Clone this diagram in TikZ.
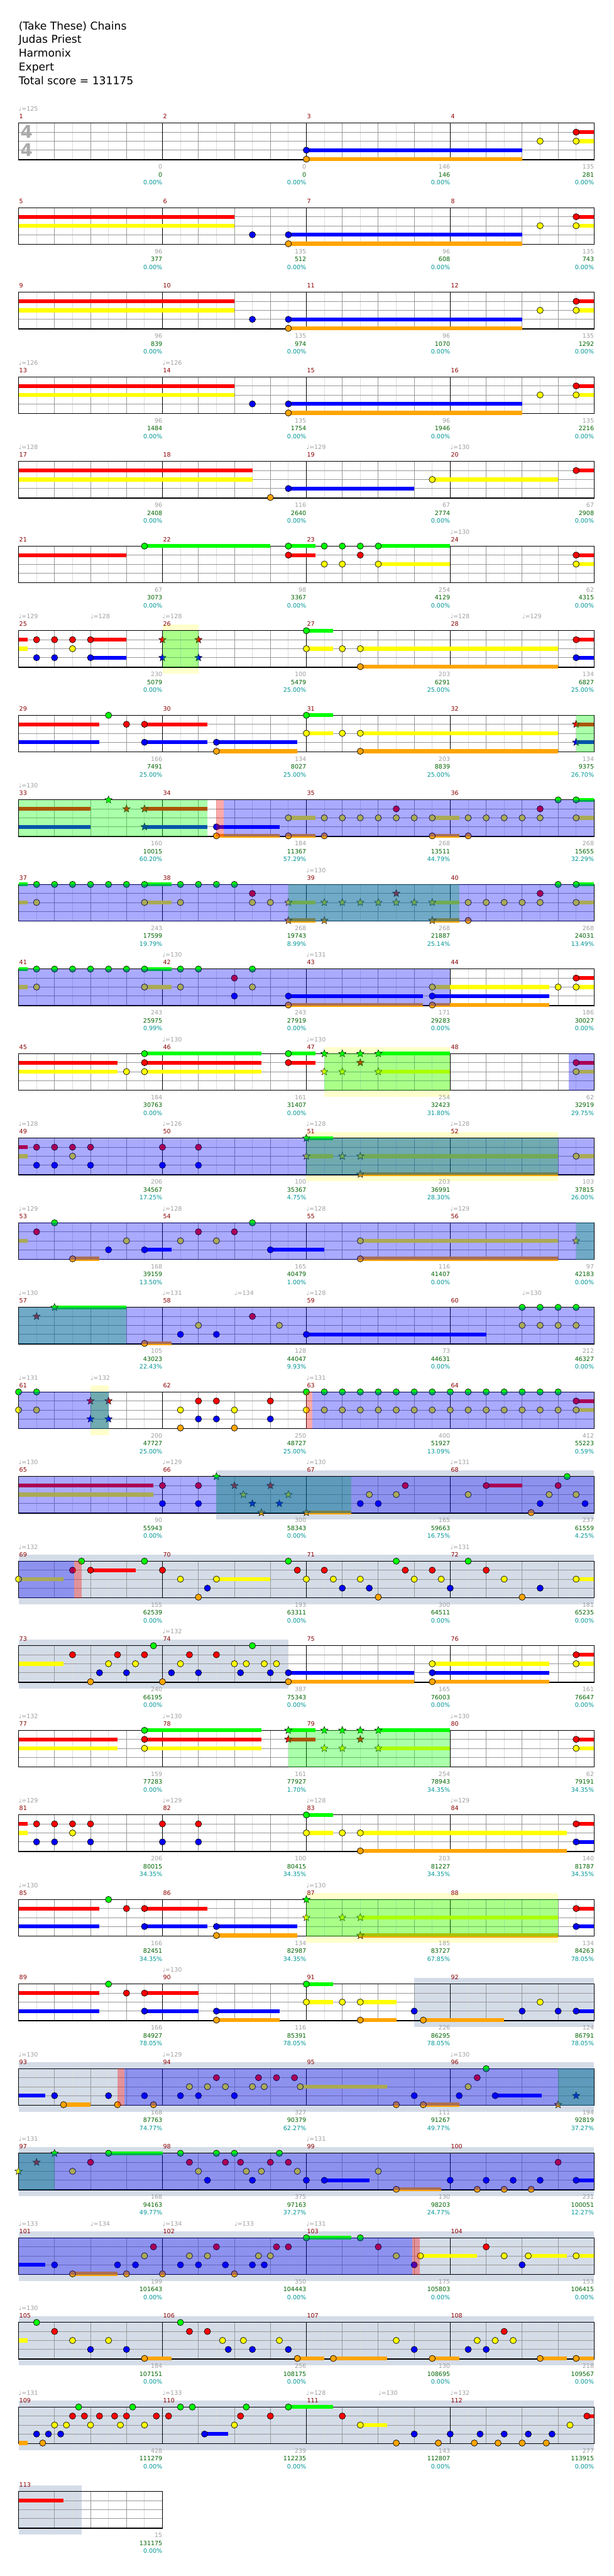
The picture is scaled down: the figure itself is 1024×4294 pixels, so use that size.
\documentclass[tikz,border=0pt]{standalone}
\usepackage{fontspec}
\setmainfont{DejaVu Sans}
\usetikzlibrary{shapes.geometric}
\definecolor{ln0}{RGB}{0,255,0}
\definecolor{ln1}{RGB}{255,0,0}
\definecolor{ln2}{RGB}{255,255,0}
\definecolor{ln3}{RGB}{0,0,255}
\definecolor{ln4}{RGB}{255,165,0}
\definecolor{mnumc}{RGB}{139,0,0}
\definecolor{tgray}{RGB}{160,160,160}
\definecolor{sgreen}{RGB}{0,100,0}
\definecolor{steal}{RGB}{0,150,150}
\definecolor{gband}{RGB}{212,220,232}
\definecolor{yband}{RGB}{255,255,204}
\definecolor{glc}{RGB}{153,153,153}
\definecolor{hlc}{RGB}{221,221,221}
\definecolor{tsg}{RGB}{170,170,170}
\newcommand\lbfont{\fontsize{10}{12}\selectfont}
\tikzset{
 nt/.style={circle,draw=black,line width=0.7pt,minimum size=10.5pt,inner sep=0pt},
 stn/.style={star,star points=5,star point ratio=2.3,draw=black,line width=0.5pt,minimum size=13pt,inner sep=0pt},
 sus/.style={line width=6.5pt,line cap=butt},
 lab/.style={anchor=base east,inner sep=0pt,font=\lbfont},
 mnum/.style={anchor=base west,inner sep=0pt,font=\lbfont,text=mnumc},
 tmp/.style={anchor=base west,inner sep=0pt,font=\lbfont,text=tgray},
 gl/.style={draw=glc,line width=0.9pt},
 hl/.style={draw=hlc,line width=0.9pt},
 hdr/.style={anchor=base west,inner sep=0pt,font=\fontsize{18}{22}\selectfont}
}
\newcommand\NT[2]{\foreach \xb/\xl in {#2}{\node[nt,fill=ln\xl] at ({31+60*\xb},{205.3+141*#1+15*\xl}) {};}}
\newcommand\ST[2]{\foreach \xb/\xl in {#2}{\node[stn,fill=ln\xl] at ({31+60*\xb},{205.3+141*#1+15*\xl}) {};}}
\newcommand\SU[2]{\foreach \xb/\xe/\xl in {#2}{\draw[sus,color=ln\xl] ({31+60*\xb},{205.3+141*#1+15*\xl}) -- ({31+60*\xe},{205.3+141*#1+15*\xl});}}
\newcommand\GB[3]{\fill[gband] ({31+60*#2},{194.8+141*#1}) rectangle ({31+60*#3},{276.8+141*#1});}
\newcommand\YB[3]{\fill[yband] ({31+60*#2},{194.8+141*#1}) rectangle ({31+60*#3},{276.8+141*#1});}
\newcommand\GO[3]{\fill[ln0,fill opacity=0.3333] ({31+60*#2},{205.3+141*#1}) rectangle ({31+60*#3},{266.3+141*#1});}
\newcommand\BO[3]{\fill[ln3,fill opacity=0.3333] ({31+60*#2},{205.3+141*#1}) rectangle ({31+60*#3},{266.3+141*#1});}
\newcommand\PO[3]{\fill[ln1,fill opacity=0.3333] ({31+60*#2},{205.3+141*#1}) rectangle ({31+60*#3},{266.3+141*#1});}
\newcommand\TPS[2]{\foreach \xb/\xv in {#2}{\node[tmp] at ({31+60*\xb},{205.3+141*#1-20}) {♩=\xv};}}
\newcommand\LBS[2]{\foreach \ga/\gb/\gc [count=\gj from 0] in {#2}{%
 \node[lab,text=tgray] at ({31+240*(\gj+1)},{205.3+141*#1+76.4}) {\ga};
 \node[lab,text=sgreen] at ({31+240*(\gj+1)},{205.3+141*#1+89.7}) {\gb};
 \node[lab,text=steal] at ({31+240*(\gj+1)},{205.3+141*#1+102.7}) {\gc\%};}}
\newcommand\GRID[2]{%
 \pgfmathsetmacro\gt{205.3+141*#1}%
 \pgfmathtruncatemacro\gn{8*#2-1}%
 \foreach \i in {1,...,\gn}{%
   \pgfmathtruncatemacro\gm{mod(\i,2)}%
   \ifnum\gm=1 \draw[hl] ({31+30*\i},\gt) -- ++(0,61);\else\draw[gl] ({31+30*\i},\gt) -- ++(0,61);\fi}%
 \foreach \yy in {15,30,45}{\draw[gl] (31,{\gt+\yy}) -- ({31+240*#2},{\gt+\yy});}%
 \ifnum#2>1 \pgfmathtruncatemacro\gq{#2-1}\foreach \i in {1,...,\gq}{\draw[black,line width=1pt] ({31+240*\i},\gt) -- ++(0,61);}\fi
 \draw[black,line width=1.2pt] (31,\gt) rectangle ({31+240*#2},{\gt+61});}
\begin{document}
\begin{tikzpicture}[x=1pt,y=-1pt]
\fill[white] (0,0) rectangle (1024,4294);
\useasboundingbox (0,0) rectangle (1024,4294);
% header
\node[hdr] (t1) at (31,49.3) {(Take These) Chains};
\node[hdr] (t2) at (31,72.3) {Judas Priest};
\node[hdr] (t3) at (31,95.3) {Harmonix};
\node[hdr] (t4) at (31,118.3) {Expert};
\node[hdr] (t5) at (31,141.3) {Total score = 131175};
% bands
\YB{6}{4}{5}\YB{11}{8.5}{12}\YB{12}{8}{15}\YB{15}{2}{2.5}\YB{21}{8}{15}
\GB{16}{5.5}{16}\GB{17}{0}{16}\GB{18}{0}{7.5}\GB{22}{11}{16}\GB{23}{0}{16}
\GB{24}{0}{16}\GB{25}{0}{16}\GB{26}{0}{16}\GB{27}{0}{16}\GB{28}{0}{1.75}
% grids
\foreach \r in {0,...,27}{\GRID{\r}{4}
 \foreach \j in {0,...,3}{\pgfmathtruncatemacro\mn{4*\r+\j+1}\node[mnum] at ({32+240*\j},{205.3+141*\r-7.6}) {\mn};}}
\GRID{28}{1}
\node[mnum] at (32,{205.3+141*28-7.6}) {113};
\node[anchor=base west,inner sep=0pt,font=\bfseries\fontsize{29}{30}\selectfont,text=tsg] at (34,230.3) {4};
\node[anchor=base west,inner sep=0pt,font=\bfseries\fontsize{29}{30}\selectfont,text=tsg] at (34,260.3) {4};
% row 0
\SU{0}{8/14/3,8/14/4,15.5/16/1,15.5/16/2}
\NT{0}{8/3,8/4,14.5/2,15.5/1,15.5/2}
\TPS{0}{0/125}
\LBS{0}{0/0/0.00,0/0/0.00,146/146/0.00,135/281/0.00}
% rows 1-3
\foreach \r in {1,2,3}{
\SU{\r}{0/6/1,0/6/2,7.5/14/3,7.5/14/4,15.5/16/1,15.5/16/2}
\NT{\r}{6.5/3,7.5/3,7.5/4,14.5/2,15.5/1,15.5/2}}
\LBS{1}{96/377/0.00,135/512/0.00,96/608/0.00,135/743/0.00}
\LBS{2}{96/839/0.00,135/974/0.00,96/1070/0.00,135/1292/0.00}
\LBS{3}{96/1484/0.00,135/1754/0.00,96/1946/0.00,135/2216/0.00}
\TPS{3}{0/126,4/126}
% row 4
\SU{4}{0/6.5/1,0/6.5/2,7.5/11/3,11.5/15/2,15.5/16/1}
\NT{4}{7/4,7.5/3,11.5/2,15.5/1}
\TPS{4}{0/128,8/129,12/130}
\LBS{4}{96/2408/0.00,116/2640/0.00,67/2774/0.00,67/2908/0.00}
% row 5
\SU{5}{0/3/1,3.5/7/0,7.5/8.25/0,7.5/8.25/1,10/12/0,10/12/2,15.5/16/1,15.5/16/2}
\NT{5}{3.5/0,7.5/0,7.5/1,8.5/0,8.5/2,9/0,9/2,9.5/0,9.5/1,10/0,10/2,15.5/1,15.5/2}
\TPS{5}{12/130}
\LBS{5}{67/3073/0.00,98/3367/0.00,254/4129/0.00,62/4315/0.00}
% row 6
\SU{6}{0/0.25/1,0/0.25/2,2/3/1,2/3/3,8/8.75/0,8/8.75/2,9.5/15/2,9.5/15/4,15.5/16/1,15.5/16/3}
\NT{6}{0.5/1,1/1,1.5/1,2/1,1.5/2,0.5/3,1/3,2/3,8/0,8/2,9/2,9.5/2,9.5/4,15.5/1,15.5/3}
\ST{6}{4/1,4/3,5/1,5/3}
\TPS{6}{0/129,2/128,4/128,12/128,14/129}
\LBS{6}{230/5079/0.00,100/5479/25.00,203/6291/25.00,134/6827/25.00}
% row 7
\SU{7}{0/2.25/1,0/2.25/3,3.5/5.25/1,3.5/5.25/3,5.5/7.75/3,5.5/7.75/4,8/8.75/0,8/8.75/2,9.5/15/2,9.5/15/4,15.5/16/1,15.5/16/3}
\NT{7}{2.5/0,3/1,3.5/1,3.5/3,5.5/3,5.5/4,8/0,8/2,9/2,9.5/2,9.5/4}
\ST{7}{15.5/1,15.5/3}
\LBS{7}{166/7491/25.00,134/8027/25.00,203/8839/25.00,134/9375/26.70}
% row 8
\SU{8}{0/2/1,0/2/3,3.5/5.25/1,3.5/5.25/3,5.5/7.25/3,5.5/7.25/4,7.5/8.25/2,7.5/8.25/4,11.5/12.25/2,11.5/12.25/4,15.5/16/0,15.5/16/2}
\ST{8}{2.5/0,3/1,3.5/1,3.5/3}
\NT{8}{5.5/3,5.5/4,7.5/2,7.5/4,8.5/2,8.5/4,9/2,9.5/2,10/2,10.5/2,10.5/1,11/2,11.5/2,11.5/4,12.5/2,12.5/4,13/2,13.5/2,14/2,14.5/2,14.5/1,15/0,15.5/0,15.5/2}
\TPS{8}{0/130}
\LBS{8}{160/10015/60.20,184/11367/57.29,268/13511/44.79,268/15655/32.29}
% row 9
\SU{9}{0/0.25/0,0/0.25/2,3.5/4.25/0,3.5/4.25/2,7.5/8.25/2,7.5/8.25/4,11.5/12.25/2,11.5/12.25/4,15.5/16/0,15.5/16/2}
\NT{9}{0.5/0,1/0,1.5/0,2/0,2.5/0,3/0,3.5/0,0.5/2,3.5/2,4.5/0,5/0,5.5/0,6/0,4.5/2,6.5/1,6.5/2,7/2,12.5/4,12.5/2,13/2,13.5/2,14/2,14.5/2,14.5/1,15/0,15.5/0,15.5/2}
\ST{9}{7.5/2,7.5/4,8.5/2,9/2,9.5/2,10/2,10.5/2,10.5/1,11/2,11.5/2,8.5/4,11.5/4}
\TPS{9}{8/130}
\LBS{9}{243/17599/19.79,268/19743/8.99,268/21887/25.14,268/24031/13.49}
% row 10
\SU{10}{0/0.25/0,0/0.25/2,3.5/4.25/0,3.5/4.25/2,7.5/11.25/3,7.5/11.25/4,11.5/14.75/2,11.5/14.75/3,11.5/14.75/4,15.5/16/1,15.5/16/2}
\NT{10}{0.5/0,1/0,1.5/0,2/0,2.5/0,3/0,3.5/0,0.5/2,3.5/2,4.5/0,5/0,4.5/2,6/1,6/3,6.5/0,6.5/2,7.5/3,7.5/4,11.5/2,11.5/3,11.5/4,15/2,15.5/1,15.5/2}
\TPS{10}{4/130,8/131}
\LBS{10}{243/25975/0.99,243/27919/0.00,171/29283/0.00,186/30027/0.00}
% row 11
\SU{11}{0/2.75/1,0/2.75/2,3.5/6.75/0,3.5/6.75/1,3.5/6.75/2,7.5/8.25/0,7.5/8.25/1,10/12/0,10/12/2,15.5/16/1,15.5/16/2}
\NT{11}{3/2,3.5/0,3.5/1,3.5/2,7.5/0,7.5/1,15.5/1,15.5/2}
\ST{11}{8.5/0,9/0,9.5/0,10/0,8.5/2,9/2,10/2,9.5/1}
\TPS{11}{4/130,8/130}
\LBS{11}{184/30763/0.00,161/31407/0.00,254/32423/31.80,62/32919/29.75}
% row 12
\SU{12}{0/0.25/1,0/0.25/2,8/8.75/0,8/8.75/2,9.5/15/2,9.5/15/4,15.5/16/2}
\NT{12}{0.5/1,1/1,1.5/1,2/1,1.5/2,0.5/3,1/3,2/3,4/1,5/1,4/3,5/3,15.5/2}
\ST{12}{8/0,8/2,9/2,9.5/2,9.5/4}
\TPS{12}{0/128,4/126,8/128,12/128}
\LBS{12}{206/34567/17.25,100/35367/4.75,203/36991/28.30,103/37815/26.00}
% row 13
\SU{13}{0/0.25/2,1.5/2.25/4,3.5/4.25/3,7/8.5/3,9.5/15/2,9.5/15/4}
\NT{13}{0.5/1,1/0,1.5/4,2.5/3,3/2,3.5/3,4.5/2,5/1,5.5/2,6/1,6.5/0,7/3,9.5/2,9.5/4}
\ST{13}{15.5/2}
\TPS{13}{0/129,4/128,8/128,12/129}
\LBS{13}{168/39159/13.50,165/40479/1.00,116/41407/0.00,97/42183/0.00}
% row 14
\SU{14}{1/3/0,3.5/4.25/4,8/13/3}
\ST{14}{0.5/1,1/0}
\NT{14}{3.5/4,4.5/3,5/2,5.5/3,6.5/1,7.25/2,8/3,14/0,14.5/0,15/0,15.5/0,14/2,14.5/2,15/2,15.5/2}
\TPS{14}{0/130,4/131,6/134,8/128,14/130}
\LBS{14}{105/43023/22.43,128/44047/9.93,73/44631/0.00,212/46327/0.00}
% row 15
\SU{15}{15.5/16/1,15.5/16/2}
\NT{15}{0/0,0/2,0.5/0,0.5/2,4.5/2,4.5/4,5/1,5/3,5.5/1,5.5/3,6/2,6/4,7/1,7/3,8/0,8/2,15.5/1,15.5/2}
\foreach \q in {8.5,9,...,15}{\NT{15}{\q/0,\q/2}}
\ST{15}{2/1,2/3,2.5/1,2.5/3}
\TPS{15}{0/131,2/132,8/131}
\LBS{15}{200/47727/25.00,250/48727/25.00,400/51927/13.09,412/55223/0.59}
% row 16
\SU{16}{0/3.75/1,0/3.75/2,13/14/1,8/9.25/4}
\NT{16}{4/1,4/3,5/1,5/3,9.5/3,9.75/2,10/3,10.5/2,10.75/1,12.5/2,13/1,14.25/4,14.5/3,14.75/2,15/1,15.25/0,15.5/2,15.75/3}
\ST{16}{5.5/0,6/1,6.25/2,6.5/3,6.75/4,7/1,7.25/3,7.5/2,8/4}
\TPS{16}{0/130,4/129,8/130,12/131}
\LBS{16}{90/55943/0.00,300/58343/0.00,165/59663/16.75,237/61559/4.25}
% row 17
\SU{17}{0/1.25/2,2/3.25/1,5.5/7/2,15.5/16/2}
\NT{17}{0/2,1.5/1,1.75/0,2/1,3.5/0,4/1,4.5/2,5/4,5.25/3,5.5/2,7.5/0,7.75/1,8/2,8.5/1,8.75/2,9/3,9.5/2,9.75/3,10/4,10.5/0,10.75/1,11/2,11.5/1,11.75/2,12/3,12.5/0,13/1,13.5/2,14/4,14.5/3,15.5/2}
\TPS{17}{0/132,12/131}
\LBS{17}{155/62539/0.00,193/63311/0.00,300/64511/0.00,181/65235/0.00}
% row 18
\SU{18}{0/1.25/2,7.5/11/3,7.5/11/4,11.5/14.75/2,11.5/14.75/3,11.5/14.75/4,15.5/16/1,15.5/16/2}
\NT{18}{1.5/1,2/4,2.25/3,2.5/2,2.75/1,3/3,3.25/2,3.5/1,3.75/0,4/4,4.25/3,4.5/2,4.75/1,5/3,5.5/1,6/2,6.17/3,6.33/2,6.5/0,6.83/2,7/3,7.17/2,7.5/3,7.5/4,11.5/2,11.5/3,11.5/4,15.5/1,15.5/2}
\TPS{18}{4/132}
\LBS{18}{240/66195/0.00,387/75343/0.00,165/76003/0.00,161/76647/0.00}
% row 19
\SU{19}{0/2.75/1,0/2.75/2,3.5/6.75/0,3.5/6.75/1,3.5/6.75/2,7.5/8.25/0,7.5/8.25/1,10/12/0,10/12/2,15.5/16/1,15.5/16/2}
\NT{19}{3.5/0,3.5/1,3.5/2,15.5/1,15.5/2}
\ST{19}{7.5/0,7.5/1,8.5/0,9/0,9.5/0,10/0,8.5/2,9/2,10/2,9.5/1}
\TPS{19}{0/132,4/130,12/130}
\LBS{19}{159/77283/0.00,161/77927/1.70,254/78943/34.35,62/79191/34.35}
% row 20
\SU{20}{0/0.25/1,0/0.25/2,8/8.75/0,8/8.75/2,9.5/15.25/2,9.5/15.25/4,15.5/16/1,15.5/16/3}
\NT{20}{0.5/1,1/1,1.5/1,2/1,1.5/2,0.5/3,1/3,2/3,4/1,5/1,4/3,5/3,8/0,8/2,9/2,9.5/2,9.5/4,15.5/1,15.5/3}
\TPS{20}{0/129,4/129,8/128,12/129}
\LBS{20}{206/80015/34.35,100/80415/34.35,203/81227/34.35,140/81787/34.35}
% row 21
\SU{21}{0/2.25/1,0/2.25/3,3.5/5.25/1,3.5/5.25/3,5.5/7.75/3,5.5/7.75/4,9.5/15/2,9.5/15/4,15.5/16/1,15.5/16/3}
\NT{21}{2.5/0,3/1,3.5/1,3.5/3,5.5/3,5.5/4,15.5/1,15.5/3}
\ST{21}{8/0,8/2,9/2,9.5/2,9.5/4}
\TPS{21}{0/130,8/130}
\LBS{21}{166/82451/34.35,134/82987/34.35,185/83727/67.85,134/84263/78.05}
% row 22
\SU{22}{0/2.25/1,0/2.25/3,3.5/5/1,3.5/5/3,5.5/7.25/3,5.5/7.25/4,8/8.75/0,8/8.75/2,9.5/10.5/2,9.5/10.5/4,11.25/13.5/4,15.5/16/3}
\NT{22}{2.5/0,3/1,3.5/1,3.5/3,5.5/3,5.5/4,8/0,8/2,9/2,9.5/2,9.5/4,11/3,11.25/4,14/3,14.5/2,15/3,15.5/3}
\TPS{22}{4/130}
\LBS{22}{166/84927/78.05,116/85391/78.05,226/86295/78.05,124/86791/78.05}
% row 23
\SU{23}{0/0.75/3,1.25/2/4,7.83/10.25/2,11.25/12.25/4,13.25/14.55/3}
\NT{23}{1/3,1.25/4,2.5/3,2.75/4,3.5/3,3.75/4,4.5/3,4.75/2,5/3,5.25/2,5.5/1,5.75/2,6/3,6.5/2,6.67/1,6.83/2,7.17/1,7.67/1,7.83/2,10.5/4,11/3,11.25/4,12.25/3,12.5/2,12.75/1,13/0,13.25/3}
\ST{23}{15/4,15.5/3}
\TPS{23}{0/130,4/129,12/130}
\LBS{23}{168/87763/74.77,327/90379/62.27,111/91267/49.77,194/92819/37.27}
% row 24
\SU{24}{2.5/4/0,8.5/9.75/3,10.5/11.75/4,15.5/16/3}
\ST{24}{0/2,0.5/1,1/0}
\NT{24}{1.5/2,2/1,2.5/0,4.5/0,4.75/1,5/2,5.25/3,5.5/0,5.75/1,6/0,6.17/1,6.33/2,6.5/3,6.75/2,7/1,7.25/0,7.5/1,7.75/2,8/3,8.5/3,10/2,10.5/4,12/3,12.75/4,13/3,13.5/4,13.75/3,14.25/4,14.5/3,15/1,15.5/3}
\TPS{24}{0/131,8/131}
\LBS{24}{168/94163/49.77,375/97163/37.27,130/98203/24.77,231/100051/12.27}
% row 25
\SU{25}{0/0.75/3,1.5/2.75/4,8/9.25/0,11.17/12.75/2,14.17/15.25/2,15.5/16/2}
\NT{25}{1/3,1.5/4,2.75/3,3/4,3.25/3,3.5/2,3.75/1,4/4,4.5/3,4.75/2,5/3,5.25/2,5.5/1,5.75/3,6/4,6.5/3,6.67/2,6.83/3,7/2,7.17/1,7.5/1,8/0,9.5/0,10/1,10.5/2,11/3,11.17/2,13/1,13.5/2,14/3,14.17/2,15.5/2}
\TPS{25}{0/133,2/134,4/134,6/133,8/131}
\LBS{25}{199/101643/0.00,350/104443/0.00,175/105803/0.00,153/106415/0.00}
% row 26
\SU{26}{0/0.25/2,3.5/4.25/4,7.75/8.5/4,8.75/10.25/4,11.5/12.25/4,14.5/15.25/4,15.5/16/4}
\NT{26}{0.5/0,1/1,1.5/2,2/3,2.5/2,3/3,3.5/4,4.5/0,4.75/1,5.25/1,5.67/2,5.83/3,6.25/2,6.5/3,7.25/2,7.5/3,7.75/4,8.75/4,10.5/2,11/3,11.5/4,12.5/3,12.75/2,13/3,13.25/2,13.5/1,13.75/2,14.5/4,15.5/4}
\TPS{26}{0/130}
\LBS{26}{184/107151/0.00,256/108175/0.00,130/108695/0.00,218/109567/0.00}
% row 27
\SU{27}{0/0.25/4,5.17/5.83/3,7.5/8.75/0,9.5/10.25/2,15.8/16/1}
\NT{27}{0.5/3,0.67/4,0.83/3,1/2,1.17/3,1.33/2,1.5/1,1.67/0,1.83/1,2/2,2.25/1,2.67/1,2.83/2,3/1,3.17/0,3.5/2,3.83/1,4.17/1,4.5/0,4.83/0,5.17/3,6/2,6.17/1,6.33/0,7/1,7.5/0,9/1,9.5/2,10.5/4,11/3,11.67/4,12/3,12.67/4,12.83/3,13.33/4,13.5/3,14/4,14.17/3,14.67/4,14.83/3,15.33/2,15.8/1}
\TPS{27}{0/131,4/133,8/128,10/130,12/132}
\LBS{27}{428/111279/0.00,239/112235/0.00,143/112807/0.00,277/113915/0.00}
% row 28
\SU{28}{0/1.25/1}
\LBS{28}{15/131175/0.00}
% overlays
\GO{6}{4}{5}\GO{7}{15.5}{16}\GO{8}{0}{5.25}\GO{9}{7.5}{12.25}\GO{11}{8.5}{12}\GO{12}{8}{15}
\GO{13}{15.5}{16}\GO{14}{0}{3}\GO{15}{2}{2.5}\GO{16}{5.5}{9.25}\GO{19}{7.5}{12}\GO{21}{8}{15}
\GO{23}{15}{16}\GO{24}{0}{1}
\BO{8}{5.7}{16}\BO{9}{0}{16}\BO{10}{0}{12}\BO{11}{15.3}{16}\BO{12}{0}{16}\BO{13}{0}{16}
\BO{14}{0}{16}\BO{15}{0}{2.5}\BO{15}{8.17}{16}\BO{16}{0}{16}\BO{17}{0}{1.55}\BO{23}{2.95}{16}
\BO{24}{0}{16}\BO{25}{0}{10.95}
\PO{8}{5.5}{5.7}\PO{15}{8}{8.17}\PO{17}{1.55}{1.75}\PO{23}{2.75}{2.95}\PO{25}{10.95}{11.15}
\end{tikzpicture}
\end{document}
